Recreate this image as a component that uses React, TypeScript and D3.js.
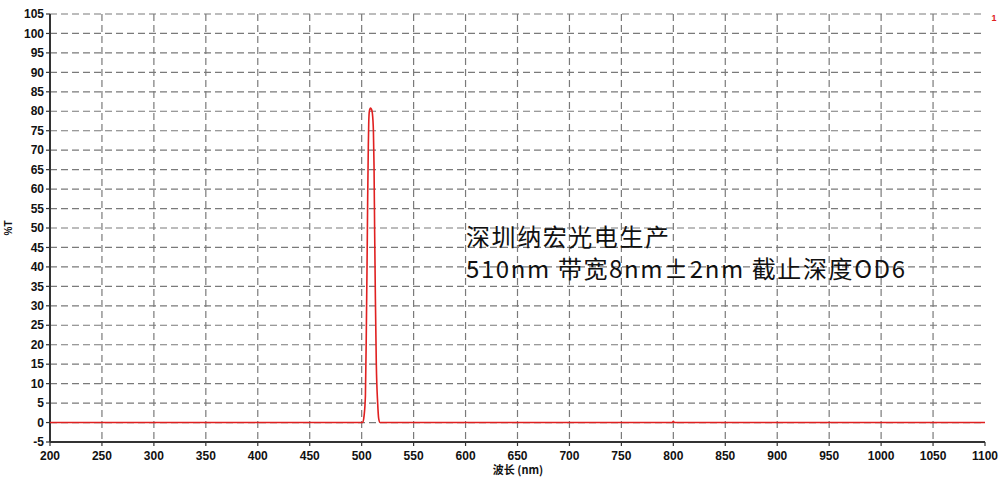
import React from "react";
import * as d3 from "d3";

const wavelengths = [200, 501, 502.3, 503.6, 504.5, 505.2, 505.8, 506.4, 506.8, 507.4, 508.5, 509.5, 510.3, 511.3, 511.9, 512.5, 513.2, 514.1, 515.4, 516.4, 517.7, 799, 800, 801, 1100];
const transmission = [0, 0, 1.7, 6.8, 24, 41, 58, 71, 77, 80, 80.8, 80.5, 79.5, 75, 66, 49, 32, 15, 5, 1, 0, 0, 0.3, 0, 0];
const xTicks = d3.range(200, 1101, 50);
const yTicks = d3.range(-5, 106, 5);
const titleLine1 = "深圳纳宏光电生产";
const titleLine2 = "510nm 带宽8nm±2nm 截止深度OD6";
const xLabel = "波长 (nm)";
const yLabel = "%T";

export default function App() {
  const W = 1000, H = 478;
  const left = 50, right = 985, top = 14, bottom = 442;
  const x = d3.scaleLinear().domain([200, 1100]).range([left, right]);
  const y = d3.scaleLinear().domain([-5, 105]).range([bottom, top]);
  const pts = wavelengths.map((w, i) => [w, transmission[i]] as [number, number]);
  const line = d3.line<[number, number]>().x(d => x(d[0])).y(d => y(d[1])).curve(d3.curveMonotoneX);
  const tickFont = { fontFamily: "'Liberation Sans', Arial, sans-serif", fontWeight: 700, fontSize: 12, fill: "#111" } as const;
  return (
    <div style={{ position: "absolute", left: 0, top: 0 }}>
      <svg width={W} height={H} style={{ display: "block", background: "#fff" }}>
        {/* grid */}
        {yTicks.filter(t => t > -5).map(t => (
          <line key={"gy" + t} x1={left} x2={right} y1={y(t)} y2={y(t)} stroke="#7a7a7a" strokeWidth={1.2} strokeDasharray="7,4" />
        ))}
        {xTicks.filter(t => t > 200 && t < 1100).map(t => (
          <line key={"gx" + t} x1={x(t)} x2={x(t)} y1={top} y2={bottom} stroke="#7a7a7a" strokeWidth={1.2} strokeDasharray="7,4" />
        ))}
        {/* axes */}
        <line x1={left} x2={left} y1={top} y2={bottom} stroke="#333" strokeWidth={2} />
        <line x1={left} x2={right} y1={bottom} y2={bottom} stroke="#333" strokeWidth={2} />
        {yTicks.map(t => (
          <g key={"ty" + t}>
            <line x1={left - 4} x2={left} y1={y(t)} y2={y(t)} stroke="#333" strokeWidth={1.2} />
            <text x={left - 6} y={y(t)} dy="0.35em" textAnchor="end" {...tickFont}>{t}</text>
          </g>
        ))}
        {xTicks.map(t => (
          <g key={"tx" + t}>
            <line x1={x(t)} x2={x(t)} y1={bottom} y2={bottom + 4} stroke="#333" strokeWidth={1.2} />
            <text x={x(t)} y={460} textAnchor="middle" {...tickFont}>{t}</text>
          </g>
        ))}
        {/* axis labels */}
        <text x={518} y={474} textAnchor="middle" style={{ fontFamily: "'Noto Sans CJK SC', 'Liberation Sans', sans-serif", fontWeight: 700, fontSize: 11, fill: "#111" }}>{xLabel}</text>
        <text transform={`translate(12,${y(50)}) rotate(-90)`} textAnchor="middle" style={{ fontFamily: "'Liberation Sans', Arial, sans-serif", fontWeight: 700, fontSize: 10, fill: "#111" }}>{yLabel}</text>
        {/* curve */}
        <path d={line(pts) || ""} fill="none" stroke="#e02020" strokeWidth={1.6} />
        {/* annotation */}
        <text x={466} y={246} textLength={203} lengthAdjust="spacing" style={{ fontFamily: "'Noto Sans CJK SC', sans-serif", fontSize: 24, fill: "#111" }}>{titleLine1}</text>
        <text x={466} y={278} textLength={439} lengthAdjust="spacing" style={{ fontFamily: "'Noto Sans CJK SC', sans-serif", fontSize: 24, fill: "#111" }}>{titleLine2}</text>
        <text x={994} y={21} textAnchor="middle" style={{ fontFamily: "'Liberation Sans', Arial, sans-serif", fontWeight: 700, fontSize: 9, fill: "#e02020" }}>1</text>
      </svg>
    </div>
  );
}
